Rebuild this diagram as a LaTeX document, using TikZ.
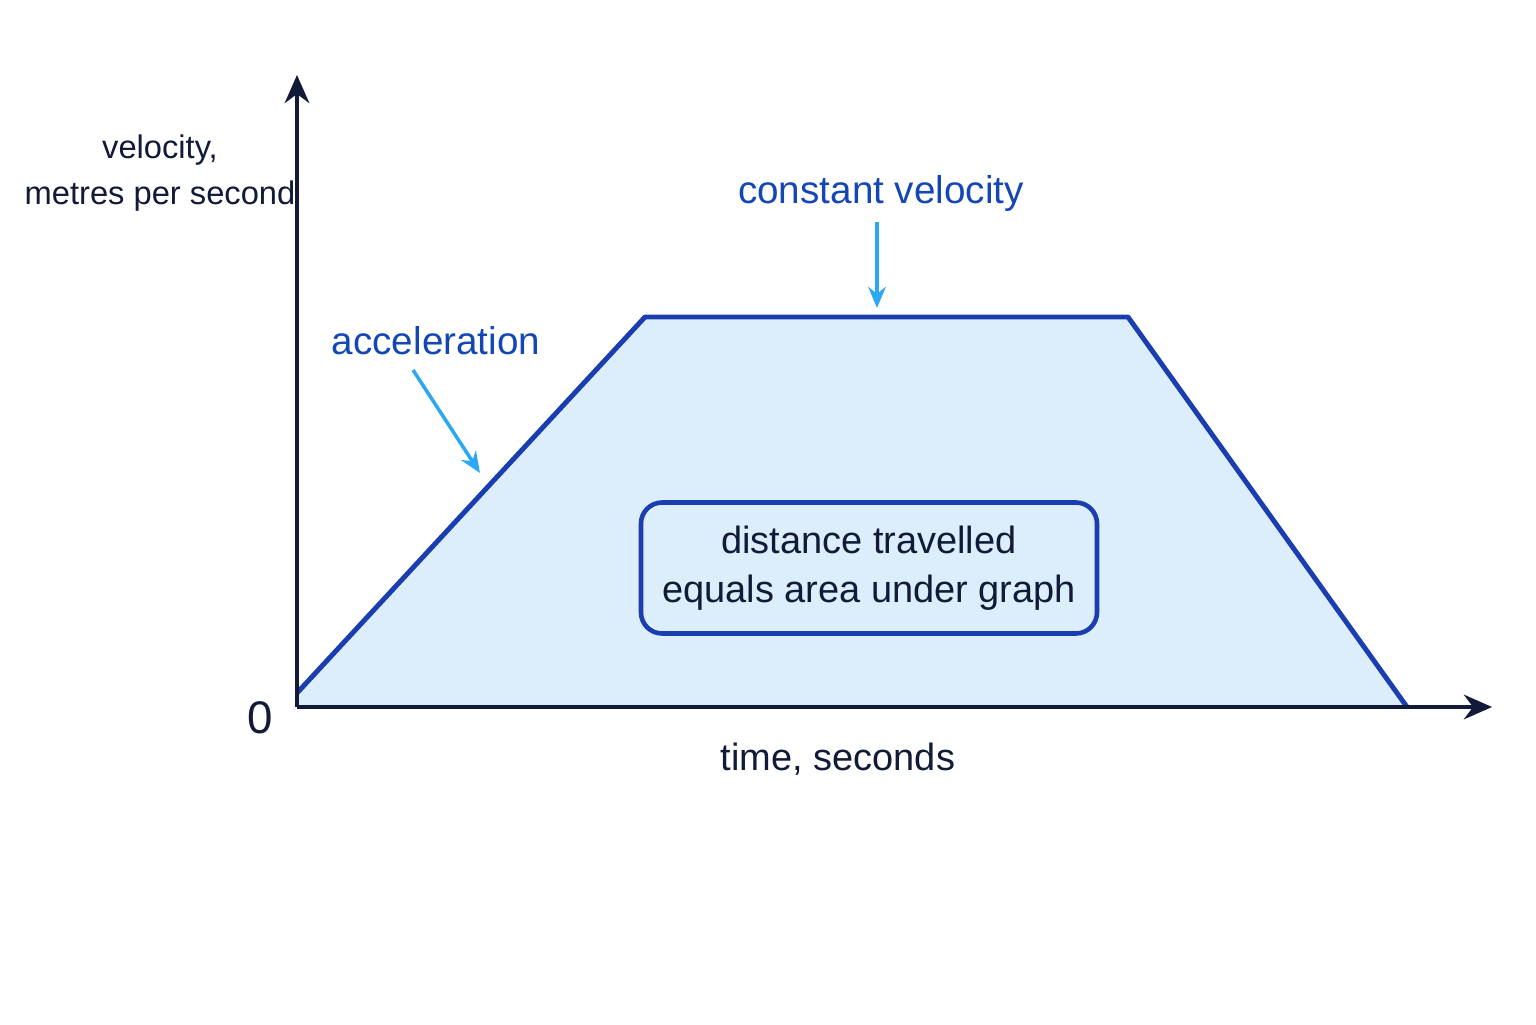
\documentclass[tikz,border=0pt]{standalone}
\usepackage{fontspec}
\setmainfont{Liberation Sans}
\usetikzlibrary{arrows.meta}
\definecolor{navy}{HTML}{111A36}
\definecolor{lineblue}{HTML}{1A3DB0}
\definecolor{areablue}{HTML}{DCEDFB}
\definecolor{pointblue}{HTML}{2AA8F0}
\definecolor{labelblue}{HTML}{1446B4}
\tikzset{
  axis/.style={line width=1.2pt,draw=navy,-{Stealth[length=8pt,width=7pt]}},
  lbl/.style={font=\fontsize{10.8}{14}\selectfont,text=navy,align=center},
  bluelbl/.style={font=\fontsize{11}{14}\selectfont,text=labelblue},
  pointer/.style={line width=1pt,draw=pointblue,-{Stealth[length=6pt,width=5pt]}}
}
\begin{document}
\begin{tikzpicture}
  \useasboundingbox (0,0) rectangle (15.36,10.24);

  % Graph corners
  \coordinate (O) at (2.97,3.17);
  \coordinate (start) at (2.97,3.31);
  \coordinate (riseend) at (6.45,7.07);
  \coordinate (fallstart) at (11.28,7.07);
  \coordinate (stop) at (14.07,3.17);
  \coordinate (ytip) at (2.97,9.49);
  \coordinate (xtip) at (14.92,3.17);

  % Area under graph
  \fill[areablue] (O) -- (start) -- (riseend) -- (fallstart) -- (stop) -- cycle;
  \draw[lineblue,line width=1.4pt,line join=round] (start) -- (riseend) -- (fallstart) -- (stop);

  % Axes
  \draw[axis] (O) -- (ytip);
  \draw[axis] (O) -- (xtip);

  % Axis labels
  \node[lbl,font=\fontsize{9.3}{13}\selectfont] (vlabel) at (1.6,8.51) {velocity,\\metres per second};
  \node[lbl] (zero) at (2.6,3.06) {\fontsize{13}{16}\selectfont 0};
  \node[lbl] (tlabel) at (8.38,2.65) {time, seconds};

  % Distance box
  \node[lbl,draw=lineblue,line width=1.3pt,rounded corners=6pt,
        minimum width=4.56cm,minimum height=1.31cm] (area) at (8.69,4.56)
        {distance travelled\\equals area under graph};

  % Annotations
  \node[bluelbl] (accel) at (4.36,6.83) {acceleration};
  \coordinate (accelpt) at (4.8,5.51);
  \draw[pointer] (4.13,6.54) -- (accelpt);
  \node[bluelbl] (const) at (8.81,8.3) {constant velocity};
  \coordinate (constpt) at (8.77,7.16);
  \draw[pointer] (8.77,8.02) -- (constpt);
\end{tikzpicture}
\end{document}
